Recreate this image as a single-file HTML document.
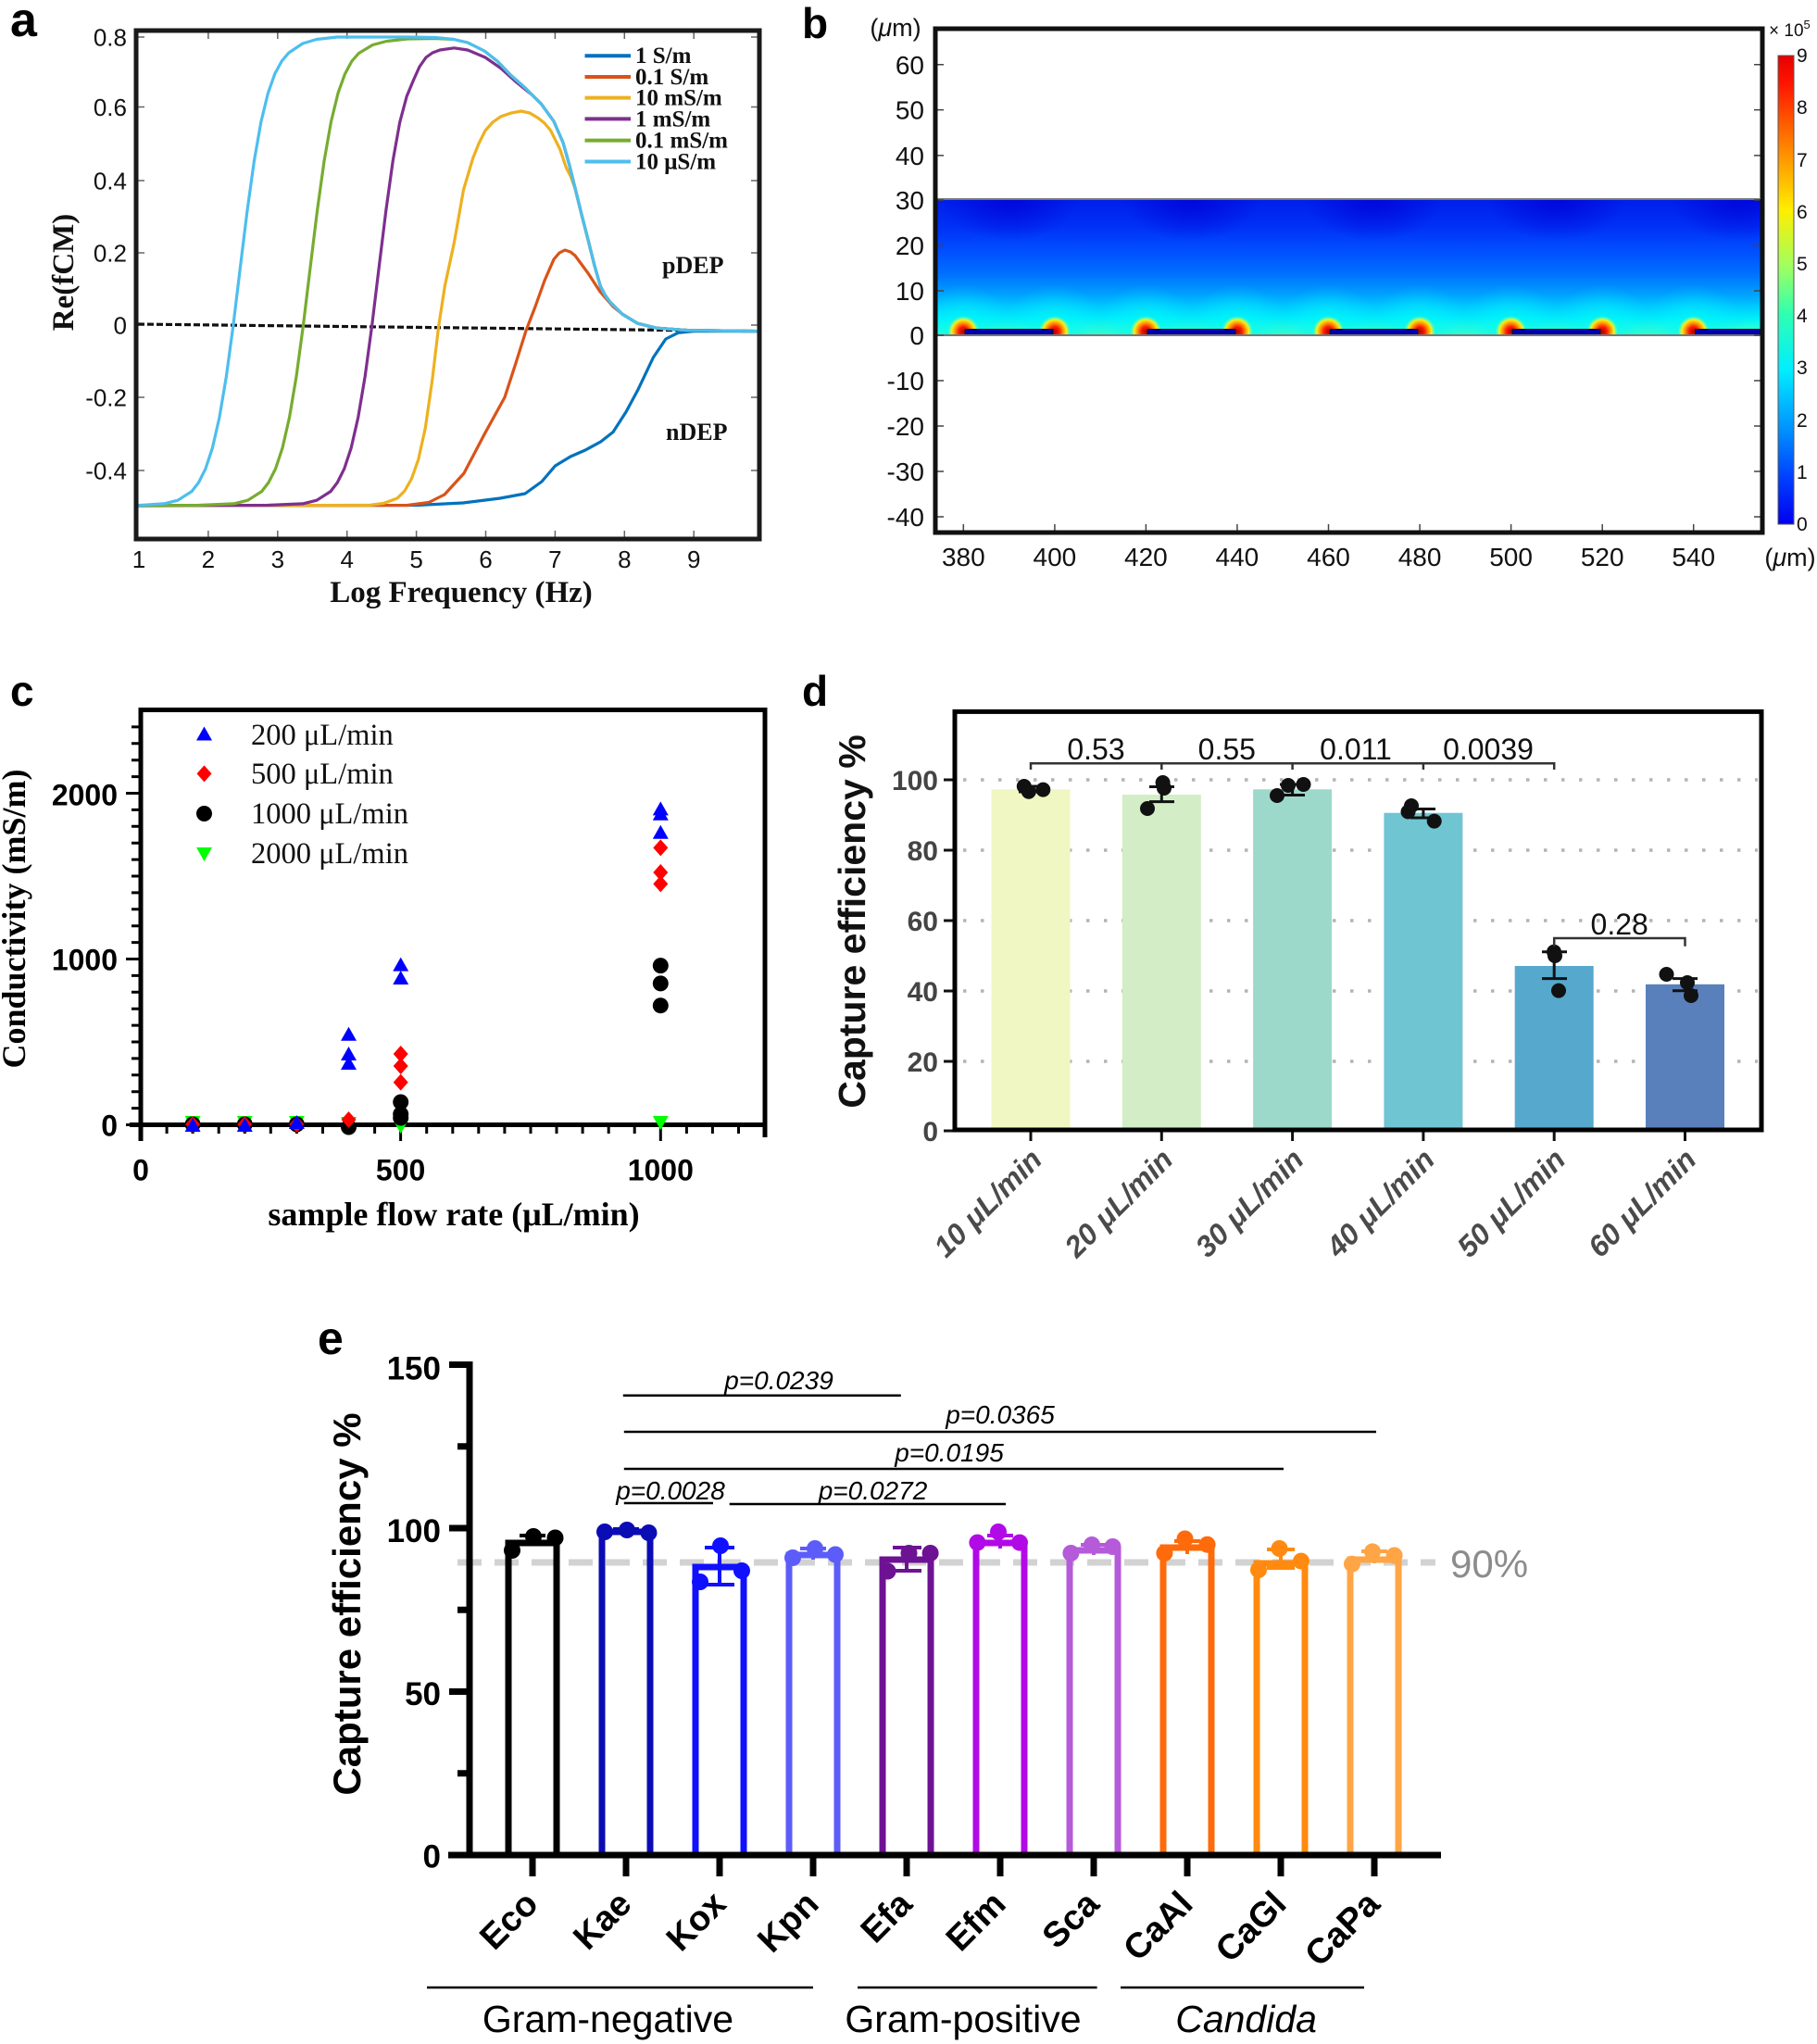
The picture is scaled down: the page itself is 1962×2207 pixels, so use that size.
<!DOCTYPE html>
<html>
<head>
<meta charset="utf-8">
<style>
html,body{margin:0;padding:0;background:#fff;}
svg{display:block;}
.sans{font-family:"Liberation Sans",Arial,sans-serif;}
.serif{font-family:"Liberation Serif","Times New Roman",serif;}
</style>
</head>
<body>
<svg width="1962" height="2207" viewBox="0 0 1962 2207" xmlns="http://www.w3.org/2000/svg">
<defs>
  <linearGradient id="fieldg" x1="0" y1="0" x2="0" y2="1">
    <stop offset="0" stop-color="rgb(0,30,236)"/>
    <stop offset="0.2" stop-color="rgb(0,48,246)"/>
    <stop offset="0.4" stop-color="rgb(0,82,255)"/>
    <stop offset="0.55" stop-color="rgb(0,112,255)"/>
    <stop offset="0.7" stop-color="rgb(0,160,255)"/>
    <stop offset="0.8" stop-color="rgb(0,205,255)"/>
    <stop offset="0.88" stop-color="rgb(0,238,248)"/>
    <stop offset="0.95" stop-color="rgb(40,255,215)"/>
    <stop offset="1" stop-color="rgb(70,255,190)"/>
  </linearGradient>
  <radialGradient id="hot">
    <stop offset="0" stop-color="#b00000"/>
    <stop offset="0.3" stop-color="#ff1a00"/>
    <stop offset="0.55" stop-color="#ff9a00"/>
    <stop offset="0.75" stop-color="#f4f020"/>
    <stop offset="1" stop-color="rgb(120,255,160)" stop-opacity="0"/>
  </radialGradient>
  <radialGradient id="dome">
    <stop offset="0" stop-color="rgb(0,255,235)" stop-opacity="0.9"/>
    <stop offset="0.6" stop-color="rgb(0,240,255)" stop-opacity="0.4"/>
    <stop offset="1" stop-color="rgb(0,220,255)" stop-opacity="0"/>
  </radialGradient>
  <radialGradient id="dark">
    <stop offset="0" stop-color="rgb(0,0,215)" stop-opacity="0.8"/>
    <stop offset="1" stop-color="rgb(0,0,215)" stop-opacity="0"/>
  </radialGradient>
  <linearGradient id="jet" x1="0" y1="0" x2="0" y2="1">
    <stop offset="0" stop-color="#e60000"/>
    <stop offset="0.06" stop-color="#ff1500"/>
    <stop offset="0.17" stop-color="#ff7000"/>
    <stop offset="0.33" stop-color="#ffee00"/>
    <stop offset="0.45" stop-color="#a0ff60"/>
    <stop offset="0.55" stop-color="#30ffb0"/>
    <stop offset="0.67" stop-color="#00eeff"/>
    <stop offset="0.8" stop-color="#0090ff"/>
    <stop offset="0.9" stop-color="#0040ff"/>
    <stop offset="1" stop-color="#0000f0"/>
  </linearGradient>
  <clipPath id="fieldclip"><rect x="1012.5" y="215" width="888" height="146.5"/></clipPath>
</defs>

<!-- ================= PANEL A ================= -->
<text x="11" y="39" class="sans" font-size="52" font-weight="bold">a</text>
<g fill="none" stroke="#666" stroke-width="1.5">
  <path d="M149.5 40H156M149.5 115.5H156M149.5 195H156M149.5 273H156M149.5 351H156M149.5 429H156M149.5 508H156
           M818 40H811M818 115.5H811M818 195H811M818 273H811M818 351H811M818 429H811M818 508H811
           M224.9 580V573M299.8 580V573M374.7 580V573M449.6 580V573M524.5 580V573M599.4 580V573M674.3 580V573M749.2 580V573
           M224.9 35V42M299.8 35V42M374.7 35V42M449.6 35V42M524.5 35V42M599.4 35V42M674.3 35V42M749.2 35V42"/>
</g>
<polyline fill="none" stroke="#111" stroke-width="3.2" stroke-dasharray="7 3" points="149,350 818,357.6"/>
<g fill="none" stroke-width="3.2" stroke-linejoin="round" stroke-linecap="round">
  <polyline stroke="#0072bd" points="150,546 450,545.5 500,543 540,538 567,533 585,520 599.5,503 616,493 632,486 648.6,477 662,466.5 676,444.7 688.6,421.4 705.4,386 718.9,366 732.3,359.3 749.1,357.6 818,357.6"/>
  <polyline stroke="#d95319" points="150,546 440,545.5 463,542.5 480,534 501,511 523,469 545,429 557,392 568,357 578,331 588,303 598,280 604,273 610,270 616,272 621,276 635,295 648,315 662,331 672,339.1 688.6,349.2 708.8,354.2 742.4,356.6 818,357.6"/>
  <polyline stroke="#edb120" points="150,546 399,545.5 414,543.5 429,538 437,530 444.4,517 451.8,496 459.3,462 466.8,410 473.6,352.6 480.3,309 490.4,262 500.5,205 510.6,171 517,155 524,141 532,132 540.8,125.8 552,122 562.6,120 572,122 581,127.4 588,133 594.6,140.9 604.6,161 611.4,181 616,190 621.4,204.7 628,231.6 634.9,258.5 641.6,285.4 648.3,309 653,318 658.4,325.7 671.8,339.1 688.6,349.2 708.8,354.2 742.4,356.6 818,357.6"/>
  <polyline stroke="#7e2f8e" points="150,546 289,545.5 327,543.9 342,540.2 357,530.6 364.3,521 371.7,506.2 379.2,483.6 386.7,450.8 394.2,406.4 401.7,351 409.2,289 416.7,228 424.2,174 431.7,132 439.2,104 446.7,86 453,72 460,62 467,57 475,54 490.4,51.8 505,54 524,62 540.8,73.7 557.6,88.8 574,102 584.5,112.3 598,131 608,154 614.7,177.8 621.4,204.7 628,231.6 634.9,258.5 641.6,285.4 648.3,309 653,318 658.4,325.7 671.8,339.1 688.6,349.2 708.8,354.2 742.4,356.6 818,357.6"/>
  <polyline stroke="#77ac30" points="150,546 215,545.5 252.6,543.9 267.6,540.2 282.6,530.6 290,521 297.5,506.2 305,483.6 312.5,450.8 320,406.4 327.5,351 335,289 342.5,228 350,174 357.5,131.4 365,100.6 372.4,80 379.9,66 387.4,57.5 402.4,48.5 417.4,44.5 440,42 470,41.5 490,42.5 505,46 523,55 537,66 550.8,80.4 567.7,95.5 584.5,112.3 598,131 608,154 614.7,177.8 621.4,204.7 628,231.6 634.9,258.5 641.6,285.4 648.3,309 653,318 658.4,325.7 671.8,339.1 688.6,349.2 708.8,354.2 742.4,356.6 818,357.6"/>
  <polyline stroke="#4dbeee" points="150,545.6 177,543.9 192,540.2 207,530.6 214.5,521 221.9,506.2 229.4,483.6 236.9,450.8 244.4,406.4 251.9,351 259.4,289 266.9,228 274.4,174 281.9,131.4 289.4,100.6 296.8,79.6 304.3,65.9 311.8,57 326.8,47 341.8,42.5 364,40 440,40 470,40.5 490,42.5 505,46 523,55 537,66 550.8,80.4 567.7,95.5 584.5,112.3 598,131 608,154 614.7,177.8 621.4,204.7 628,231.6 634.9,258.5 641.6,285.4 648.3,309 653,318 658.4,325.7 671.8,339.1 688.6,349.2 708.8,354.2 742.4,356.6 818,357.6"/>
</g>
<rect x="147" y="33" width="673" height="549" fill="none" stroke="#1a1a1a" stroke-width="5"/>
<!-- legend -->
<g stroke-width="4">
  <line x1="631.5" y1="60.2" x2="681" y2="60.2" stroke="#0072bd"/>
  <line x1="631.5" y1="83" x2="681" y2="83" stroke="#d95319"/>
  <line x1="631.5" y1="105.6" x2="681" y2="105.6" stroke="#edb120"/>
  <line x1="631.5" y1="128.4" x2="681" y2="128.4" stroke="#7e2f8e"/>
  <line x1="631.5" y1="151.6" x2="681" y2="151.6" stroke="#77ac30"/>
  <line x1="631.5" y1="174.5" x2="681" y2="174.5" stroke="#4dbeee"/>
</g>
<g class="serif" font-size="25" font-weight="bold" fill="#111">
  <text x="686" y="68">1 S/m</text>
  <text x="686" y="91">0.1 S/m</text>
  <text x="686" y="113.5">10 mS/m</text>
  <text x="686" y="136.5">1 mS/m</text>
  <text x="686" y="159.5">0.1 mS/m</text>
  <text x="686" y="182.5">10 μS/m</text>
  <text x="715" y="295" font-size="26">pDEP</text>
  <text x="719" y="475" font-size="26">nDEP</text>
</g>
<g class="sans" font-size="26" text-anchor="end" fill="#111">
  <text x="137" y="49.5">0.8</text>
  <text x="137" y="125">0.6</text>
  <text x="137" y="204.5">0.4</text>
  <text x="137" y="282.5">0.2</text>
  <text x="137" y="360.5">0</text>
  <text x="137" y="438.5">-0.2</text>
  <text x="137" y="517.5">-0.4</text>
</g>
<g class="sans" font-size="26" text-anchor="middle" fill="#111">
  <text x="150" y="613">1</text>
  <text x="224.9" y="613">2</text>
  <text x="299.8" y="613">3</text>
  <text x="374.7" y="613">4</text>
  <text x="449.6" y="613">5</text>
  <text x="524.5" y="613">6</text>
  <text x="599.4" y="613">7</text>
  <text x="674.3" y="613">8</text>
  <text x="749.2" y="613">9</text>
</g>
<text x="498" y="650" class="serif" font-size="33" font-weight="bold" text-anchor="middle" fill="#111">Log Frequency (Hz)</text>
<text transform="translate(79,294) rotate(-90)" class="serif" font-size="33" font-weight="bold" text-anchor="middle" fill="#111">Re(fCM)</text>

<!-- ================= PANEL B ================= -->
<text x="866" y="41" class="sans" font-size="46" font-weight="bold">b</text>
<g clip-path="url(#fieldclip)">
  <rect x="1012.5" y="215" width="888" height="146.5" fill="url(#fieldg)"/>
  <ellipse cx="1089.6" cy="215" rx="75" ry="45" fill="url(#dark)"/>
  <ellipse cx="1286.7" cy="215" rx="75" ry="45" fill="url(#dark)"/>
  <ellipse cx="1483.8" cy="215" rx="75" ry="45" fill="url(#dark)"/>
  <ellipse cx="1680.9" cy="215" rx="75" ry="45" fill="url(#dark)"/>
  <ellipse cx="1878" cy="215" rx="75" ry="45" fill="url(#dark)"/>
  <g fill="url(#dome)">
    <ellipse cx="1040.3" cy="360" rx="58" ry="52"/>
    <ellipse cx="1138.9" cy="360" rx="58" ry="52"/>
    <ellipse cx="1237.4" cy="360" rx="58" ry="52"/>
    <ellipse cx="1335.9" cy="360" rx="58" ry="52"/>
    <ellipse cx="1434.5" cy="360" rx="58" ry="52"/>
    <ellipse cx="1533.1" cy="360" rx="58" ry="52"/>
    <ellipse cx="1631.6" cy="360" rx="58" ry="52"/>
    <ellipse cx="1730.2" cy="360" rx="58" ry="52"/>
    <ellipse cx="1828.7" cy="360" rx="58" ry="52"/>
  </g>
  <g fill="url(#hot)">
    <circle cx="1040.3" cy="358" r="17"/>
    <circle cx="1138.9" cy="358" r="17"/>
    <circle cx="1237.4" cy="358" r="17"/>
    <circle cx="1335.9" cy="358" r="17"/>
    <circle cx="1434.5" cy="358" r="17"/>
    <circle cx="1533.1" cy="358" r="17"/>
    <circle cx="1631.6" cy="358" r="17"/>
    <circle cx="1730.2" cy="358" r="17"/>
    <circle cx="1828.7" cy="358" r="17"/>
  </g>
  <g fill="#0000a8" stroke="#111" stroke-width="1">
    <rect x="1042" y="355.5" width="95" height="6"/>
    <rect x="1239" y="355.5" width="95" height="6"/>
    <rect x="1436" y="355.5" width="95" height="6"/>
    <rect x="1633" y="355.5" width="95" height="6"/>
    <rect x="1830.5" y="355.5" width="75" height="6"/>
  </g>
</g>
<line x1="1012" y1="215" x2="1900" y2="215" stroke="#777" stroke-width="2"/>
<line x1="1012" y1="362" x2="1900" y2="362" stroke="#777" stroke-width="2"/>
<g fill="none" stroke="#444" stroke-width="1.5">
  <path d="M1012.5 69.8H1019M1012.5 118.6H1019M1012.5 167.9H1019M1012.5 216H1019M1012.5 265H1019M1012.5 314H1019M1012.5 362H1019M1012.5 411H1019M1012.5 460H1019M1012.5 509H1019M1012.5 558H1019
           M1900.5 69.8H1894M1900.5 118.6H1894M1900.5 167.9H1894M1900.5 216H1894M1900.5 265H1894M1900.5 314H1894M1900.5 362H1894M1900.5 411H1894M1900.5 460H1894M1900.5 509H1894M1900.5 558H1894
           M1040.3 573V566M1138.9 573V566M1237.4 573V566M1335.9 573V566M1434.5 573V566M1533.1 573V566M1631.6 573V566M1730.2 573V566M1828.7 573V566"/>
</g>
<rect x="1010" y="31" width="893" height="544" fill="none" stroke="#111" stroke-width="5"/>
<g class="sans" font-size="28" text-anchor="end" fill="#111">
  <text x="998" y="80">60</text>
  <text x="998" y="128.6">50</text>
  <text x="998" y="178">40</text>
  <text x="998" y="226">30</text>
  <text x="998" y="275">20</text>
  <text x="998" y="324">10</text>
  <text x="998" y="372">0</text>
  <text x="998" y="421">-10</text>
  <text x="998" y="470">-20</text>
  <text x="998" y="519">-30</text>
  <text x="998" y="568">-40</text>
</g>
<g class="sans" font-size="28" text-anchor="middle" fill="#111">
  <text x="1040.3" y="611">380</text>
  <text x="1138.9" y="611">400</text>
  <text x="1237.4" y="611">420</text>
  <text x="1335.9" y="611">440</text>
  <text x="1434.5" y="611">460</text>
  <text x="1533.1" y="611">480</text>
  <text x="1631.6" y="611">500</text>
  <text x="1730.2" y="611">520</text>
  <text x="1828.7" y="611">540</text>
</g>
<text x="967" y="39" class="sans" font-size="27" text-anchor="middle" fill="#111">(<tspan font-style="italic">μ</tspan>m)</text>
<text x="1933" y="611" class="sans" font-size="27" text-anchor="middle" fill="#111">(<tspan font-style="italic">μ</tspan>m)</text>
<!-- colorbar -->
<rect x="1920" y="60" width="17" height="506" fill="url(#jet)" stroke="#555" stroke-width="1"/>
<g class="sans" font-size="21" fill="#111">
  <text x="1940" y="67">9</text>
  <text x="1940" y="123">8</text>
  <text x="1940" y="180">7</text>
  <text x="1940" y="236">6</text>
  <text x="1940" y="292">5</text>
  <text x="1940" y="348">4</text>
  <text x="1940" y="404">3</text>
  <text x="1940" y="461">2</text>
  <text x="1940" y="517">1</text>
  <text x="1940" y="573">0</text>
</g>
<text x="1910" y="39" class="sans" font-size="19" fill="#111">× 10<tspan font-size="13" dy="-8">5</tspan></text>

<!-- ================= PANEL C ================= -->
<text x="11" y="762" class="sans" font-size="46" font-weight="bold">c</text>
<g fill="none" stroke="#000" stroke-width="3">
  <path d="M142 1196.6H152M142 1178.7H152M142 1160.8H152M142 1142.9H152M142 1125H152M142 1107.1H152M142 1089.2H152M142 1071.3H152M142 1053.4H152M142 1017.6H152M142 999.7H152M142 981.8H152M142 963.9H152M142 946H152M142 928.1H152M142 910.2H152M142 892.3H152M142 874.4H152M142 838.6H152M142 820.7H152M142 802.8H152M142 784.9H152
           M136 1214.5H152M136 1035.5H152M136 856.5H152"/>
  <path d="M180.1 1214.5V1224M208.1 1214.5V1224M236.2 1214.5V1224M264.3 1214.5V1224M292.3 1214.5V1224M320.4 1214.5V1224M348.5 1214.5V1224M376.5 1214.5V1224M404.6 1214.5V1224M460.7 1214.5V1224M488.8 1214.5V1224M516.8 1214.5V1224M544.9 1214.5V1224M573 1214.5V1224M601 1214.5V1224M629.1 1214.5V1224M657.2 1214.5V1224M685.2 1214.5V1224M741.4 1214.5V1224M769.4 1214.5V1224M797.5 1214.5V1224
           M432.6 1214.5V1232M713.3 1214.5V1232"/>
</g>
<g fill="none" stroke="#000" stroke-width="5">
  <path d="M152 766.5V1232M149.5 766.5H826M826 764V1228M140 1214.5H826"/>
</g>
<!-- data: green -->
<g fill="#00ff00">
  <polygon points="199.6,1205 216.6,1205 208.1,1220"/>
  <polygon points="255.8,1205 272.8,1205 264.3,1220"/>
  <polygon points="311.9,1205 328.9,1205 320.4,1220"/>
  <polygon points="368,1206 385,1206 376.5,1221"/>
  <polygon points="424.2,1209 441.2,1209 432.7,1224"/>
  <polygon points="704.8,1205 721.8,1205 713.3,1220"/>
</g>
<g fill="#000">
  <circle cx="208.1" cy="1214" r="8.5"/>
  <circle cx="264.3" cy="1214" r="8.5"/>
  <circle cx="320.4" cy="1214" r="8.5"/>
  <circle cx="376.5" cy="1217" r="8.5"/>
  <circle cx="432.7" cy="1190" r="8.5"/>
  <circle cx="432.7" cy="1203" r="8.5"/>
  <circle cx="432.7" cy="1207" r="8.5"/>
  <circle cx="713.3" cy="1042.6" r="8.5"/>
  <circle cx="713.3" cy="1061.9" r="8.5"/>
  <circle cx="713.3" cy="1085.7" r="8.5"/>
</g>
<g fill="#ff0000">
  <polygon points="208.1,1205 216.1,1214 208.1,1223 200.1,1214"/>
  <polygon points="264.3,1205 272.3,1214 264.3,1223 256.3,1214"/>
  <polygon points="320.4,1205 328.4,1214 320.4,1223 312.4,1214"/>
  <polygon points="376.5,1200 384.5,1209 376.5,1218 368.5,1209"/>
  <polygon points="432.7,1129 440.7,1138 432.7,1147 424.7,1138"/>
  <polygon points="432.7,1142 440.7,1151 432.7,1160 424.7,1151"/>
  <polygon points="432.7,1159.6 440.7,1168.6 432.7,1177.6 424.7,1168.6"/>
  <polygon points="713.3,906.4 721.3,915.4 713.3,924.4 705.3,915.4"/>
  <polygon points="713.3,933 721.3,942 713.3,951 705.3,942"/>
  <polygon points="713.3,945.4 721.3,954.4 713.3,963.4 705.3,954.4"/>
</g>
<g fill="#0000ff">
  <polygon points="208.1,1207 216.6,1222 199.6,1222"/>
  <polygon points="264.3,1207 272.8,1222 255.8,1222"/>
  <polygon points="320.4,1204 328.9,1219 311.9,1219"/>
  <polygon points="376.5,1108.7 385,1123.7 368,1123.7"/>
  <polygon points="376.5,1130 385,1145 368,1145"/>
  <polygon points="376.5,1140 385,1155 368,1155"/>
  <polygon points="432.7,1033.6 441.2,1048.6 424.2,1048.6"/>
  <polygon points="432.7,1048 441.2,1063 424.2,1063"/>
  <polygon points="713.3,865.4 721.8,880.4 704.8,880.4"/>
  <polygon points="713.3,870.7 721.8,885.7 704.8,885.7"/>
  <polygon points="713.3,890.8 721.8,905.8 704.8,905.8"/>
</g>
<!-- legend c -->
<polygon points="220.5,784.5 229,799.5 212,799.5" fill="#0000ff"/>
<polygon points="220.5,826.4 228.5,835.4 220.5,844.4 212.5,835.4" fill="#ff0000"/>
<circle cx="220.5" cy="878.5" r="8.5" fill="#000"/>
<polygon points="212,915 229,915 220.5,930" fill="#00ff00"/>
<g class="serif" font-size="32.5" fill="#111">
  <text x="271" y="804">200 μL/min</text>
  <text x="271" y="846">500 μL/min</text>
  <text x="271" y="889">1000 μL/min</text>
  <text x="271" y="932">2000 μL/min</text>
</g>
<g class="sans" font-size="32" font-weight="bold" fill="#000">
  <text x="127" y="869.5" text-anchor="end">2000</text>
  <text x="127" y="1047.5" text-anchor="end">1000</text>
  <text x="127" y="1226.5" text-anchor="end">0</text>
  <text x="152" y="1274.5" text-anchor="middle">0</text>
  <text x="432.6" y="1274.5" text-anchor="middle">500</text>
  <text x="713.3" y="1274.5" text-anchor="middle">1000</text>
</g>
<text x="490" y="1323" class="serif" font-size="36" font-weight="bold" text-anchor="middle" fill="#000">sample flow rate (μL/min)</text>
<text transform="translate(27,992) rotate(-90)" class="serif" font-size="36" font-weight="bold" text-anchor="middle" fill="#000">Conductivity (mS/m)</text>

<!-- ================= PANEL D ================= -->
<text x="866" y="762" class="sans" font-size="46" font-weight="bold">d</text>
<g stroke="#b4b4b4" stroke-width="3.5" stroke-dasharray="3.5 15.5" fill="none">
  <line x1="1040" y1="842" x2="1898" y2="842"/>
  <line x1="1040" y1="918" x2="1898" y2="918"/>
  <line x1="1040" y1="994" x2="1898" y2="994"/>
  <line x1="1040" y1="1070" x2="1898" y2="1070"/>
  <line x1="1040" y1="1146" x2="1898" y2="1146"/>
</g>
<rect x="1070.5" y="852.3" width="85" height="367" fill="#f0f7c2"/>
<rect x="1211.8" y="858" width="85" height="361" fill="#d3edc6"/>
<rect x="1353.1" y="852.3" width="85" height="367" fill="#9dd9ca"/>
<rect x="1494.4" y="877.7" width="85" height="342" fill="#70c5d3"/>
<rect x="1635.7" y="1043" width="85" height="176" fill="#56a8cd"/>
<rect x="1777" y="1062.8" width="85" height="157" fill="#5a80bb"/>
<!-- error bars d -->
<g stroke="#111" stroke-width="3" fill="none">
  <path d="M1113 849V855M1100 849H1126M1100 855H1126"/>
  <path d="M1254.3 849.5V865.6M1241 849.5H1268M1241 865.6H1268"/>
  <path d="M1395.6 847V858.5M1382 847H1409M1382 858.5H1409"/>
  <path d="M1536.9 873.5V883M1523 873.5H1550M1523 883H1550"/>
  <path d="M1678.2 1027.8V1056.6M1665 1027.8H1692M1665 1056.6H1692"/>
  <path d="M1819.5 1056.6V1069.7M1806 1056.6H1833M1806 1069.7H1833"/>
</g>
<g fill="#111">
  <circle cx="1105.8" cy="849" r="8"/><circle cx="1110.8" cy="854.7" r="8"/><circle cx="1126.3" cy="852.6" r="8"/>
  <circle cx="1255.6" cy="845" r="8"/><circle cx="1257" cy="851" r="8"/><circle cx="1239" cy="873" r="8"/>
  <circle cx="1379" cy="859" r="8"/><circle cx="1391" cy="848" r="8"/><circle cx="1407.5" cy="847" r="8"/>
  <circle cx="1524" cy="870" r="8"/><circle cx="1520.5" cy="876.5" r="8"/><circle cx="1548.7" cy="886.6" r="8"/>
  <circle cx="1678" cy="1027.8" r="8"/><circle cx="1679" cy="1032" r="8"/><circle cx="1683" cy="1069.6" r="8"/>
  <circle cx="1799.5" cy="1052" r="8"/><circle cx="1822" cy="1061" r="8"/><circle cx="1826" cy="1075" r="8"/>
</g>
<!-- brackets -->
<g stroke="#333" stroke-width="2.5" fill="none">
  <path d="M1113 831V824.2H1678.2V831M1254.3 824.2V831M1395.6 824.2V831M1536.9 824.2V831"/>
  <path d="M1678.2 1021.7V1013H1819.5V1021.7"/>
</g>
<g class="sans" font-size="32" text-anchor="middle" fill="#111">
  <text x="1183.5" y="820">0.53</text>
  <text x="1324.8" y="820">0.55</text>
  <text x="1464" y="820">0.011</text>
  <text x="1607" y="820">0.0039</text>
  <text x="1748.7" y="1009">0.28</text>
</g>
<!-- axes d -->
<g stroke="#111" stroke-width="3" fill="none">
  <path d="M1019 842H1031M1019 918H1031M1019 994H1031M1019 1070H1031M1019 1146H1031M1019 1221H1031"/>
  <path d="M1113 1220V1232M1254.3 1220V1232M1395.6 1220V1232M1536.9 1220V1232M1678.2 1220V1232M1819.5 1220V1232"/>
</g>
<rect x="1031" y="768.4" width="871" height="451.6" fill="none" stroke="#000" stroke-width="5"/>
<g class="sans" font-size="30" font-weight="bold" text-anchor="end" fill="#444">
  <text x="1013" y="853">100</text>
  <text x="1013" y="929">80</text>
  <text x="1013" y="1005">60</text>
  <text x="1013" y="1081">40</text>
  <text x="1013" y="1157">20</text>
  <text x="1013" y="1232">0</text>
</g>
<g class="sans" font-size="32" font-weight="bold" font-style="italic" text-anchor="end" fill="#4a4a4a">
  <text transform="translate(1127,1254) rotate(-45)">10 μL/min</text>
  <text transform="translate(1268.3,1254) rotate(-45)">20 μL/min</text>
  <text transform="translate(1409.6,1254) rotate(-45)">30 μL/min</text>
  <text transform="translate(1550.9,1254) rotate(-45)">40 μL/min</text>
  <text transform="translate(1692.2,1254) rotate(-45)">50 μL/min</text>
  <text transform="translate(1833.5,1254) rotate(-45)">60 μL/min</text>
</g>
<text transform="translate(934,995) rotate(-90)" class="sans" font-size="41" font-weight="bold" text-anchor="middle" fill="#111">Capture efficiency %</text>

<!-- ================= PANEL E ================= -->
<text x="343" y="1462" class="sans" font-size="50" font-weight="bold">e</text>
<line x1="494" y1="1687" x2="1550" y2="1687" stroke="#d2d2d2" stroke-width="7" stroke-dasharray="26 14"/>
<text x="1566" y="1703" class="sans" font-size="42" fill="#8c8c8c">90%</text>
<!-- significance -->
<g stroke="#000" stroke-width="2.5">
  <line x1="672.8" y1="1506.7" x2="972.8" y2="1506.7"/>
  <line x1="673.8" y1="1546" x2="1486" y2="1546"/>
  <line x1="673.8" y1="1586" x2="1386" y2="1586"/>
  <line x1="673.8" y1="1623" x2="770" y2="1623"/>
  <line x1="787.7" y1="1624" x2="1086" y2="1624"/>
</g>
<g class="sans" font-size="28" font-style="italic" text-anchor="middle" fill="#000">
  <text x="841" y="1500">p=0.0239</text>
  <text x="1080" y="1537">p=0.0365</text>
  <text x="1025" y="1578">p=0.0195</text>
  <text x="724" y="1619">p=0.0028</text>
  <text x="942.5" y="1619">p=0.0272</text>
</g>
<!-- bars -->
<g fill="none" stroke-width="7">
  <path stroke="#000" d="M549 2003V1666H601V2003"/>
  <path stroke="#0c0cb4" d="M650 2003V1654H702V2003"/>
  <path stroke="#1010ff" d="M751 2003V1692H803V2003"/>
  <path stroke="#5c5cf8" d="M852 2003V1679H904V2003"/>
  <path stroke="#6e1294" d="M953 2003V1684H1005V2003"/>
  <path stroke="#b10ae6" d="M1054 2003V1666H1106V2003"/>
  <path stroke="#b55ad9" d="M1155 2003V1674H1207V2003"/>
  <path stroke="#ff6a0a" d="M1256 2003V1671H1308V2003"/>
  <path stroke="#ff8a0f" d="M1357 2003V1688H1409V2003"/>
  <path stroke="#ffa545" d="M1458 2003V1684H1510V2003"/>
</g>
<!-- error bars e -->
<g fill="none" stroke-width="4">
  <path stroke="#000" d="M575 1658V1668M561 1658H589"/>
  <path stroke="#0c0cb4" d="M676 1651V1656M662 1651H690"/>
  <path stroke="#1010ff" d="M777 1671V1711M761 1671H793M761 1711H793"/>
  <path stroke="#5c5cf8" d="M878 1672V1684M864 1672H892"/>
  <path stroke="#6e1294" d="M979 1671V1696M964 1671H995M964 1696H995"/>
  <path stroke="#b10ae6" d="M1080 1658V1672M1066 1658H1094"/>
  <path stroke="#b55ad9" d="M1181 1668V1679M1167 1668H1195"/>
  <path stroke="#ff6a0a" d="M1282 1664V1678M1268 1664H1296"/>
  <path stroke="#ff8a0f" d="M1383 1673V1693M1368 1673H1398M1368 1693H1398"/>
  <path stroke="#ffa545" d="M1484 1675V1688M1470 1675H1498"/>
</g>
<!-- dots e -->
<g>
  <g fill="#000"><circle cx="553" cy="1674" r="9"/><circle cx="576" cy="1659" r="9"/><circle cx="599.5" cy="1660.5" r="9"/></g>
  <g fill="#0c0cb4"><circle cx="653" cy="1654" r="9"/><circle cx="677" cy="1652" r="9"/><circle cx="700.5" cy="1655" r="9"/></g>
  <g fill="#1010ff"><circle cx="756" cy="1708" r="9"/><circle cx="778" cy="1669" r="9"/><circle cx="801" cy="1696" r="9"/></g>
  <g fill="#5c5cf8"><circle cx="856" cy="1682" r="9"/><circle cx="880" cy="1672" r="9"/><circle cx="902" cy="1678.5" r="9"/></g>
  <g fill="#6e1294"><circle cx="958.5" cy="1696.5" r="9"/><circle cx="981.5" cy="1677" r="9"/><circle cx="1004.6" cy="1677" r="9"/></g>
  <g fill="#b10ae6"><circle cx="1055.4" cy="1665.6" r="9"/><circle cx="1078" cy="1654" r="9"/><circle cx="1101" cy="1665.6" r="9"/></g>
  <g fill="#b55ad9"><circle cx="1156.4" cy="1677" r="9"/><circle cx="1179" cy="1668" r="9"/><circle cx="1201.5" cy="1670" r="9"/></g>
  <g fill="#ff6a0a"><circle cx="1257.4" cy="1677" r="9"/><circle cx="1279.5" cy="1661.5" r="9"/><circle cx="1303.6" cy="1667.7" r="9"/></g>
  <g fill="#ff8a0f"><circle cx="1359" cy="1695" r="9"/><circle cx="1381.5" cy="1672" r="9"/><circle cx="1405" cy="1685.6" r="9"/></g>
  <g fill="#ffa545"><circle cx="1460" cy="1688.7" r="9"/><circle cx="1482" cy="1675.4" r="9"/><circle cx="1505.6" cy="1679.5" r="9"/></g>
</g>
<!-- axes e -->
<g stroke="#000" fill="none">
  <path stroke-width="7" d="M507 1470V2006.5M484 2003H1556"/>
  <path stroke-width="7" d="M485 1473.5H507M485 1650H507M485 1826.5H507M494 1561.8H507M494 1738.3H507M494 1914.8H507"/>
  <path stroke-width="7" d="M575 2003V2026M676 2003V2026M777 2003V2026M878 2003V2026M979 2003V2026M1080 2003V2026M1181 2003V2026M1282 2003V2026M1383 2003V2026M1484 2003V2026"/>
</g>
<g class="sans" font-size="35" font-weight="bold" text-anchor="end" fill="#000">
  <text x="476" y="1489.5">150</text>
  <text x="476" y="1665">100</text>
  <text x="476" y="1841">50</text>
  <text x="476" y="2016.5">0</text>
</g>
<g class="sans" font-size="38" font-weight="bold" text-anchor="end" fill="#000">
  <text transform="translate(583,2058) rotate(-45)">Eco</text>
  <text transform="translate(684,2058) rotate(-45)">Kae</text>
  <text transform="translate(786,2058) rotate(-45)">Kox</text>
  <text transform="translate(886,2058) rotate(-45)">Kpn</text>
  <text transform="translate(987,2058) rotate(-45)">Efa</text>
  <text transform="translate(1088,2058) rotate(-45)">Efm</text>
  <text transform="translate(1189,2058) rotate(-45)">Sca</text>
  <text transform="translate(1290,2058) rotate(-45)">CaAl</text>
  <text transform="translate(1391,2058) rotate(-45)">CaGl</text>
  <text transform="translate(1492,2058) rotate(-45)">CaPa</text>
</g>
<g stroke="#000" stroke-width="2.5">
  <line x1="461" y1="2146" x2="878" y2="2146"/>
  <line x1="926" y1="2146" x2="1184.6" y2="2146"/>
  <line x1="1210" y1="2146" x2="1473" y2="2146"/>
</g>
<g class="sans" font-size="41" text-anchor="middle" fill="#000">
  <text x="656.5" y="2194">Gram-negative</text>
  <text x="1040" y="2194">Gram-positive</text>
  <text x="1345.6" y="2194" font-style="italic">Candida</text>
</g>
<text transform="translate(389,1732) rotate(-90)" class="sans" font-size="42" font-weight="bold" text-anchor="middle" fill="#000">Capture efficiency %</text>
</svg>
</body>
</html>
